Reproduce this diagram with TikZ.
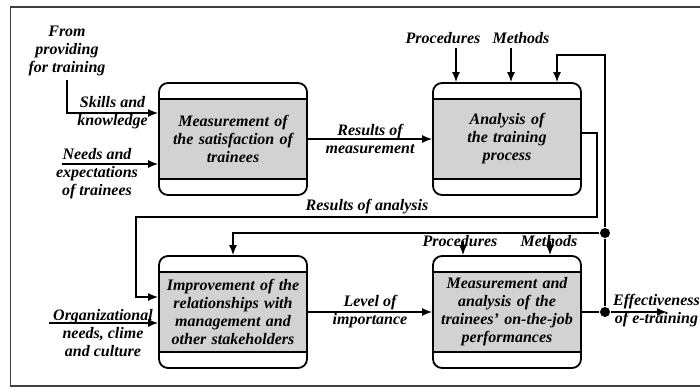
\documentclass[tikz,border=0pt]{standalone}
\usepackage{fontspec}
\setmainfont{Liberation Serif}
\usetikzlibrary{arrows.meta}

\begin{document}
\begin{tikzpicture}[->,>={Latex[length=10pt,width=8pt]},x=1pt,y=-1pt,line width=1.5pt,
  every node/.style={font=\fontsize{16}{18}\selectfont\bfseries\itshape,align=center},
  main node/.style={draw,line width=1.8pt,rounded corners=9pt,minimum width=148pt,
    minimum height=112pt,text width=140pt,
    path picture={\fill[gray!35,draw=black,line width=1.8pt,sharp corners]
      ([yshift=-16pt]path picture bounding box.north west) rectangle
      ([yshift=16pt]path picture bounding box.south east);}},
  dot/.style={circle,fill=black,inner sep=0pt,minimum size=10pt}]

  \useasboundingbox (0,0) rectangle (700,388);
  \draw[-,line width=1.2pt,black!75] (700,7) -- (10.5,7) -- (10.5,386) -- (700,386);

  \node[main node] (1) at (233,139) {Measurement of\\the satisfaction of\\trainees};
  \node[main node] (2) at (507,139) {Analysis of\\the training\\process};
  \node[main node] (3) at (233,312) {Improvement of the\\relationships with\\management and\\other stakeholders};
  \node[main node] (4) at (507,312) {Measurement and\\analysis of the\\trainees' on-the-job\\performances};

  \node (from) at (67,51) {From\\providing\\for training};
  \node (needs) at (97,174) {Needs and\\expectations\\of trainees};
  \node (org) at (103,333) {Organizational\\needs, clime\\and culture};
  \node (proc1) at (443,38) {Procedures};
  \node (meth1) at (521,38) {Methods};
  \node (proc2) at (460,241) {Procedures};
  \node (meth2) at (549,241) {Methods};
  \node (res) at (367,207) {Results of analysis};
  \node[anchor=west] (eff) at (609,311) {Effectiveness\\of e-training};

  \node[dot] (j1) at (605,233) {};
  \node[dot] (j2) at (605,312) {};
  \coordinate (n0) at (62,164);
  \coordinate (o0) at (49,323);
  \coordinate (e0) at (667,312);
  \coordinate (ra1) at (597,217);
  \coordinate (ra2) at (136,217);

  % inputs
  \draw (from) |- ([yshift=26pt]1.west) node[pos=0.75] {Skills and\\knowledge};
  \draw (n0) -- ([yshift=-25pt]1.west);
  \draw (o0) -- ([yshift=-11pt]3.west);
  \path
    (1) edge node {Results of\\measurement} (2)
    (3) edge node {Level of\\importance} (4);

  % controls
  \draw ([xshift=13pt]proc1.south) -- ([xshift=13pt]proc1.south |- 2.north);
  \draw ([xshift=-10pt]meth1.south) -- ([xshift=-10pt]meth1.south |- 2.north);
  \draw ([xshift=3pt]proc2.center) -- ([xshift=3pt]proc2.center |- 4.north);
  \draw ([xshift=1pt]meth2.center) -- ([xshift=1pt]meth2.center |- 4.north);

  % feedback loops
  \draw ([yshift=6pt]2.east) -| (ra1) -- (ra2) |- ([yshift=15pt]3.west);
  \draw (j1) -| (3.north);
  \draw (j2) -- (j1) |- ([xshift=50pt]2.north |- 0,55) -- ([xshift=50pt]2.north);
  \draw (4) -- (j2) -- (e0);
\end{tikzpicture}
\end{document}
